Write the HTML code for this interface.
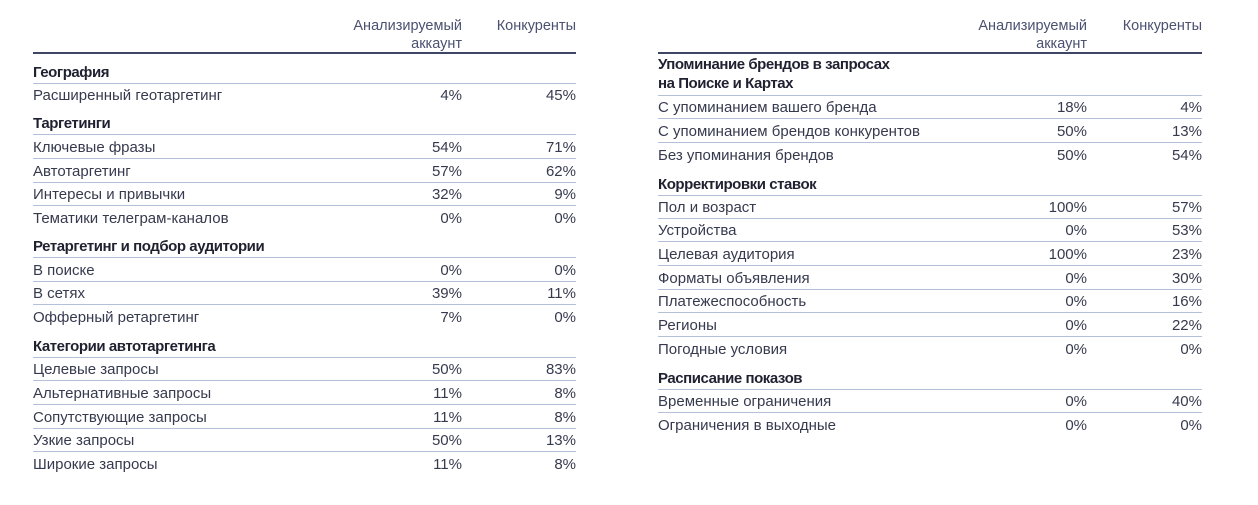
<!DOCTYPE html>
<html><head><meta charset="utf-8">
<style>
html,body{margin:0;padding:0;background:#fff;}
body{width:1258px;height:505px;position:relative;overflow:hidden;font-family:"Liberation Sans","DejaVu Sans",sans-serif;}
.t{position:absolute;font-size:15px;line-height:16px;color:#363a4e;white-space:nowrap;}
.h{font-weight:bold;color:#1f2130;letter-spacing:-0.45px;}
.c{color:#4b5170;text-align:right;line-height:18px;font-size:14.5px;}
.r{text-align:right;}
.ln{position:absolute;height:1px;background:#b3c0d8;}
.hl{position:absolute;height:2px;background:#3e4565;}
</style></head>
<body>
<script>
const leftLabels=["География","Расширенный геотаргетинг","Таргетинги","Ключевые фразы","Автотаргетинг","Интересы и привычки","Тематики телеграм-каналов","Ретаргетинг и подбор аудитории","В поиске","В сетях","Офферный ретаргетинг","Категории автотаргетинга","Целевые запросы","Альтернативные запросы","Сопутствующие запросы","Узкие запросы","Широкие запросы"];
const leftAccount=[null,"4%",null,"54%","57%","32%","0%",null,"0%","39%","7%",null,"50%","11%","11%","50%","11%"];
const leftComp=[null,"45%",null,"71%","62%","9%","0%",null,"0%","11%","0%",null,"83%","8%","8%","13%","8%"];
const leftY=[71,94,122,146,170,193,217,245,269,292,316,345,368,392,416,439,463];

const rightLabels=["Упоминание брендов в запросах<br>на Поиске и Картах","С упоминанием вашего бренда","С упоминанием брендов конкурентов","Без упоминания брендов","Корректировки ставок","Пол и возраст","Устройства","Целевая аудитория","Форматы объявления","Платежеспособность","Регионы","Погодные условия","Расписание показов","Временные ограничения","Ограничения в выходные"];
const rightAccount=[null,"18%","50%","50%",null,"100%","0%","100%","0%","0%","0%","0%",null,"0%","0%"];
const rightComp=[null,"4%","13%","54%",null,"57%","53%","23%","30%","16%","22%","0%",null,"40%","0%"];
const rightY=[72,106,130,154,183,206,229,253,277,300,324,348,377,400,424];

function header(x0,x1,c1,c2,side){
  const a=document.createElement('div');a.className='t c';
  a.style.right=(1258-c1)+'px';a.style.top='17px';a.innerHTML='Анализируемый<br>аккаунт';
  
  
  document.body.appendChild(a);
  const b=document.createElement('div');b.className='t c';
  b.style.right=(1258-c2)+'px';b.style.top='17px';b.textContent='Конкуренты';
  
  
  document.body.appendChild(b);
  const l=document.createElement('div');l.className='hl';
  l.style.left=x0+'px';l.style.width=(x1-x0)+'px';l.style.top='52px';
  
  
  document.body.appendChild(l);
}
function table(labels,acc,comp,ys,x0,x1,c1,c2,side){
  header(x0,x1,c1,c2,side);
  for(let i=0;i<labels.length;i++){
    const sec=acc[i]===null;
    const multi=labels[i].indexOf('<br>')>=0;
    const d=document.createElement('div');d.className='t'+(sec?' h':'');
    d.style.left=x0+'px';d.style.top=(ys[i]-(multi?17:6.5))+'px';
    if(multi)d.style.lineHeight='19px';
    d.innerHTML=labels[i];
    
    
    document.body.appendChild(d);
    if(!sec){
      const a=document.createElement('div');a.className='t r';
      a.style.right=(1258-c1)+'px';a.style.top=(ys[i]-6.5)+'px';a.textContent=acc[i];
      
      
      document.body.appendChild(a);
      const b=document.createElement('div');b.className='t r';
      b.style.right=(1258-c2)+'px';b.style.top=(ys[i]-6.5)+'px';b.textContent=comp[i];
      
      
      document.body.appendChild(b);
    }
    const next=i+1<labels.length?labels[i+1]:null;
    if(next!==null && acc[i+1]!==null){
      const l=document.createElement('div');l.className='ln';
      l.style.left=x0+'px';l.style.width=(x1-x0)+'px';
      l.style.top=(multi?ys[i+1]-11:Math.round((ys[i]+ys[i+1])/2))+'px';
      
      
      document.body.appendChild(l);
    }
  }
}
table(leftLabels,leftAccount,leftComp,leftY,33,576,462,576,'left');
table(rightLabels,rightAccount,rightComp,rightY,658,1202,1087,1202,'right');
</script>
</body></html>
